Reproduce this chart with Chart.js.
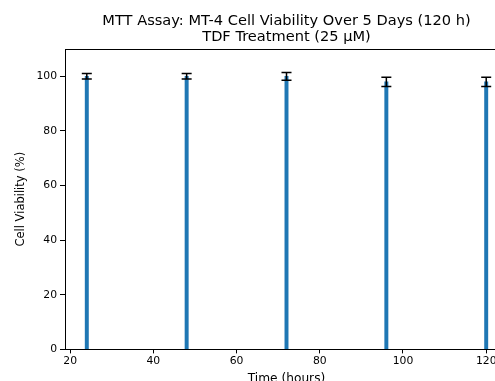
<!DOCTYPE html>
<html>
<head>
<meta charset="utf-8">
<script src="https://cdn.jsdelivr.net/npm/chart.js@4/dist/chart.umd.min.js"></script>
<style>
  html, body { margin: 0; padding: 0; background: #fff; overflow: hidden; }
  #wrap { width: 572px; height: 388px; }
</style>
</head>
<body>
<div id="wrap"><canvas id="c" width="572" height="388"></canvas></div>
<script>
const timeHours = [24, 48, 72, 96, 120];
const viability = [100, 100, 100, 98, 98];
const viabilityErr = [1.0, 1.0, 1.4, 1.7, 1.7];
const xTicks = [20, 40, 60, 80, 100, 120];
const yTicks = [0, 20, 40, 60, 80, 100];
const titleLines = ['MTT Assay: MT-4 Cell Viability Over 5 Days (120 h)', 'TDF Treatment (25 µM)'];

const FONT = "'DejaVu Sans', sans-serif";

const errorBars = {
  id: 'errorBars',
  afterDatasetsDraw(chart) {
    const ctx = chart.ctx, xs = chart.scales.x, ys = chart.scales.y;
    ctx.save();
    ctx.strokeStyle = '#000';
    ctx.lineWidth = 1.5;
    for (let i = 0; i < timeHours.length; i++) {
      const px = xs.getPixelForValue(timeHours[i]);
      const top = ys.getPixelForValue(viability[i] + viabilityErr[i]);
      const bot = ys.getPixelForValue(viability[i] - viabilityErr[i]);
      ctx.beginPath();
      ctx.moveTo(px, top); ctx.lineTo(px, bot);
      ctx.moveTo(px - 5, top); ctx.lineTo(px + 5, top);
      ctx.moveTo(px - 5, bot); ctx.lineTo(px + 5, bot);
      ctx.stroke();
    }
    ctx.restore();
  }
};

const frameAndTitle = {
  id: 'frameAndTitle',
  afterDraw(chart) {
    const a = chart.chartArea, ctx = chart.ctx;
    ctx.save();
    ctx.strokeStyle = '#000';
    ctx.lineWidth = 1;
    ctx.strokeRect(Math.round(a.left) + 0.5, Math.round(a.top) + 0.5,
                   Math.round(a.right - a.left), Math.round(a.bottom - a.top));
    ctx.fillStyle = '#000';
    ctx.font = "14.6px " + FONT;
    ctx.textAlign = 'center';
    ctx.textBaseline = 'middle';
    const cx = (a.left + a.right) / 2;
    titleLines.forEach((t, i) => ctx.fillText(t, cx, 21.5 + i * 16));
    ctx.restore();
  }
};

new Chart(document.getElementById('c'), {
  type: 'bar',
  data: {
    datasets: [{
      data: timeHours.map((t, i) => ({ x: t, y: viability[i] })),
      backgroundColor: '#1f77b4',
      borderWidth: 0,
      barThickness: 3.3
    }]
  },
  plugins: [errorBars, frameAndTitle],
  options: {
    responsive: false,
    devicePixelRatio: 1,
    animation: false,
    layout: { padding: { left: 0, right: 64, top: 49, bottom: 0 } },
    plugins: {
      legend: { display: false },
      tooltip: { enabled: false },
      title: { display: false }
    },
    scales: {
      x: {
        type: 'linear',
        min: 18.76,
        max: 125.24,
        offset: false,
        afterBuildTicks: (s) => { s.ticks = xTicks.map(v => ({ value: v })); },
        grid: { display: true, offset: false, drawOnChartArea: false, drawTicks: true, tickLength: 4, color: '#000' },
        border: { display: true, color: '#000' },
        ticks: { color: '#000', font: { family: FONT, size: 10.8 }, padding: 1.5, maxRotation: 0, autoSkip: false },
        title: { display: true, text: 'Time (hours)', color: '#000', font: { family: FONT, size: 12.2 }, padding: { top: 2, bottom: 2 } }
      },
      y: {
        min: 0,
        max: 110,
        afterBuildTicks: (s) => { s.ticks = yTicks.map(v => ({ value: v })); },
        afterFit: (s) => { s.width = 65; },
        grid: { display: true, offset: false, drawOnChartArea: false, drawTicks: true, tickLength: 5, color: '#000' },
        border: { display: true, color: '#000' },
        ticks: { color: '#000', font: { family: FONT, size: 10.8 }, padding: 3, autoSkip: false },
        title: { display: true, text: 'Cell Viability (%)', color: '#000', font: { family: FONT, size: 11.5 }, padding: { top: 14, bottom: 0 } }
      }
    }
  }
});
</script>
</body>
</html>
